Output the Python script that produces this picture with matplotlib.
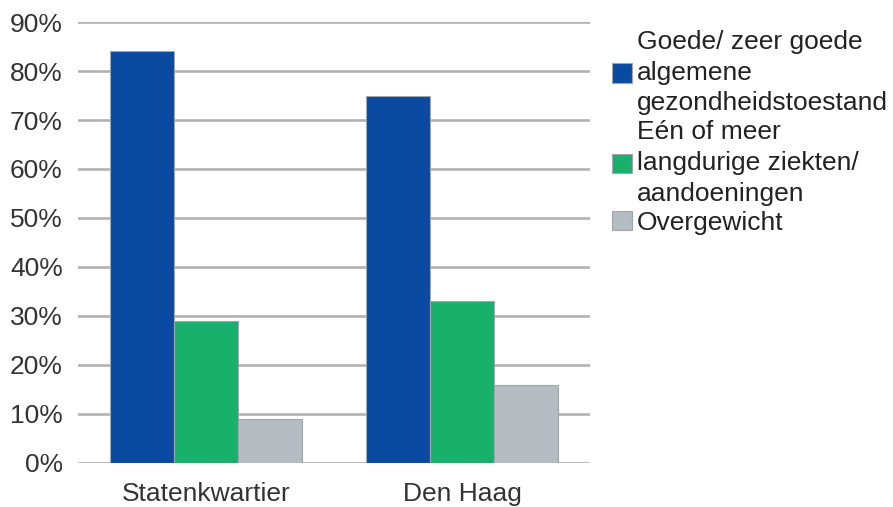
import matplotlib
matplotlib.use("Agg")
import matplotlib.pyplot as plt
import numpy as np

categories = ["Statenkwartier", "Den Haag"]
series_names = ["Goede/ zeer goede\nalgemene\ngezondheidstoestand",
                "Eén of meer\nlangdurige ziekten/\naandoeningen",
                "Overgewicht"]
values_goed = [84, 75]
values_ziekte = [29, 33]
values_overgewicht = [9, 16]
yticks = [0, 10, 20, 30, 40, 50, 60, 70, 80, 90]
colors = ["#0B4AA1", "#19B06B", "#B5BCC2"]

plt.rcParams['font.family'] = ['Liberation Sans', 'DejaVu Sans']

fig = plt.figure(figsize=(8.93, 5.07), dpi=100)
ax = fig.add_axes([0.0873, 0.0868, 0.5734, 0.8698])

x = np.arange(len(categories))
w = 0.25
all_vals = [values_goed, values_ziekte, values_overgewicht]
for i, (vals, name, c) in enumerate(zip(all_vals, series_names, colors)):
    ax.bar(x + (i - 1) * w, vals, width=w, color=c, label=name,
           edgecolor="#9ea6ad", linewidth=0.8, zorder=3)

ax.set_xlim(-0.5, 1.5)
ax.set_ylim(0, 90)
ax.set_yticks(yticks)
ax.set_yticklabels([f"{t}%" for t in yticks])
ax.set_xticks(x)
ax.set_xticklabels(categories)
ax.yaxis.grid(True, color="#b2b2b2", linewidth=1.9, zorder=0)
ax.set_axisbelow(True)
for s in ax.spines.values():
    s.set_visible(False)
ax.tick_params(axis='both', length=0, labelsize=19, colors="#333333")
ax.tick_params(axis='y', pad=11)
ax.tick_params(axis='x', pad=14)

leg = fig.legend(loc="upper left", bbox_to_anchor=(0.6855, 0.941), frameon=False,
                 fontsize=19, labelspacing=0.19, handlelength=0.75, handleheight=0.75,
                 handletextpad=0.2, borderpad=0, borderaxespad=0, labelcolor="#222222")
for t in leg.get_texts():
    t.set_linespacing(1.355)

fig.savefig("out.png", dpi=100)
